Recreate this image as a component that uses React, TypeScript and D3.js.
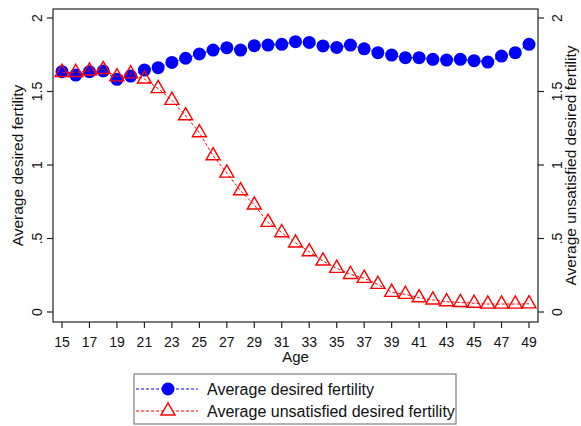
import { useEffect, useRef } from 'react'
import * as d3 from 'd3'

const AGES = d3.range(15, 50)
const DESIRED = [
  1.635, 1.612, 1.635, 1.64, 1.583, 1.605, 1.646, 1.662, 1.698, 1.726, 1.755, 1.782,
  1.798, 1.782, 1.812, 1.816, 1.821, 1.839, 1.834, 1.81, 1.80, 1.816, 1.79, 1.764,
  1.748, 1.73, 1.73, 1.719, 1.714, 1.719, 1.71, 1.70, 1.741, 1.764, 1.821,
]
const UNSATISFIED = [
  1.63, 1.63, 1.64, 1.65, 1.60, 1.62, 1.585, 1.52, 1.44, 1.335, 1.22, 1.063,
  0.945, 0.825, 0.728, 0.61, 0.54, 0.47, 0.41, 0.347, 0.297, 0.256, 0.229, 0.188,
  0.134, 0.12, 0.097, 0.082, 0.07, 0.065, 0.06, 0.054, 0.054, 0.054, 0.056,
]
const X_TICKS = d3.range(15, 50, 2)
const Y_TICKS = [0, 0.5, 1, 1.5, 2]
const Y_TICK_LABELS = ['0', '.5', '1', '1.5', '2']
const LEGEND = ['Average desired fertility', 'Average unsatisfied desired fertility']

const W = 581
const H = 426
const FRAME = { left: 53, right: 538, top: 9, bottom: 322 }
const BLUE = '#0000ff'
const RED = '#ff0000'
const FONT = 'Liberation Sans, Arial, sans-serif'

const triPath = (cx: number, cy: number, s = 14) => {
  const h = s * 0.87
  return `M${cx},${cy - (2 * h) / 3}L${cx + s / 2},${cy + h / 3}L${cx - s / 2},${cy + h / 3}Z`
}

export default function App() {
  const svgRef = useRef<SVGSVGElement>(null)

  useEffect(() => {
    const svg = d3.select(svgRef.current!)
    svg.selectAll('*').remove()

    const x = d3.scaleLinear([15, 49], [62, 529])
    const y = d3.scaleLinear([0, 2], [312, 18])

    svg.append('rect').attr('width', W).attr('height', H).attr('fill', '#fff')

    // ── Frame ────────────────────────────────────────────────
    svg.append('rect')
      .attr('x', FRAME.left).attr('y', FRAME.top)
      .attr('width', FRAME.right - FRAME.left).attr('height', FRAME.bottom - FRAME.top)
      .attr('fill', 'none').attr('stroke', '#222').attr('stroke-width', 1.2)

    // ── X axis ───────────────────────────────────────────────
    X_TICKS.forEach(t => {
      svg.append('line')
        .attr('x1', x(t)).attr('x2', x(t))
        .attr('y1', FRAME.bottom).attr('y2', FRAME.bottom + 6)
        .attr('stroke', '#222').attr('stroke-width', 1.2)
      svg.append('text')
        .attr('x', x(t)).attr('y', 347)
        .attr('text-anchor', 'middle').attr('font-size', 14).attr('font-family', FONT)
        .attr('fill', '#111')
        .text(t)
    })
    svg.append('text')
      .attr('x', (FRAME.left + FRAME.right) / 2).attr('y', 362)
      .attr('text-anchor', 'middle').attr('font-size', 15).attr('font-family', FONT)
      .attr('fill', '#111')
      .text('Age')

    // ── Y axes (left + right) ────────────────────────────────
    Y_TICKS.forEach((t, i) => {
      svg.append('line')
        .attr('x1', FRAME.left - 6).attr('x2', FRAME.left)
        .attr('y1', y(t)).attr('y2', y(t))
        .attr('stroke', '#222').attr('stroke-width', 1.2)
      svg.append('line')
        .attr('x1', FRAME.right).attr('x2', FRAME.right + 6)
        .attr('y1', y(t)).attr('y2', y(t))
        .attr('stroke', '#222').attr('stroke-width', 1.2)
      svg.append('text')
        .attr('transform', `translate(42,${y(t)}) rotate(-90)`)
        .attr('text-anchor', 'middle').attr('font-size', 14).attr('font-family', FONT)
        .attr('fill', '#111')
        .text(Y_TICK_LABELS[i])
      svg.append('text')
        .attr('transform', `translate(562,${y(t)}) rotate(-90)`)
        .attr('text-anchor', 'middle').attr('font-size', 14).attr('font-family', FONT)
        .attr('fill', '#111')
        .text(Y_TICK_LABELS[i])
    })
    svg.append('text')
      .attr('transform', `translate(23,${(FRAME.top + FRAME.bottom) / 2}) rotate(-90)`)
      .attr('text-anchor', 'middle').attr('font-size', 15.5).attr('font-family', FONT)
      .attr('fill', '#111')
      .text('Average desired fertility')
    svg.append('text')
      .attr('transform', `translate(576,${(FRAME.top + FRAME.bottom) / 2}) rotate(-90)`)
      .attr('text-anchor', 'middle').attr('font-size', 15.5).attr('font-family', FONT)
      .attr('fill', '#111')
      .text('Average unsatisfied desired fertility')

    // ── Series ───────────────────────────────────────────────
    const line = d3.line<number>().x((_, i) => x(AGES[i])).y(d => y(d))

    svg.append('path')
      .attr('d', line(DESIRED) ?? '')
      .attr('fill', 'none').attr('stroke', BLUE).attr('stroke-width', 1)
      .attr('stroke-dasharray', '3,2')
    svg.append('g').selectAll('circle').data(DESIRED).join('circle')
      .attr('cx', (_, i) => x(AGES[i])).attr('cy', d => y(d))
      .attr('r', 6.5).attr('fill', BLUE)

    svg.append('path')
      .attr('d', line(UNSATISFIED) ?? '')
      .attr('fill', 'none').attr('stroke', RED).attr('stroke-width', 1)
      .attr('stroke-dasharray', '3,2')
    svg.append('g').selectAll('path').data(UNSATISFIED).join('path')
      .attr('d', (d, i) => triPath(x(AGES[i]), y(d)))
      .attr('fill', 'none').attr('stroke', RED).attr('stroke-width', 1.4)

    // ── Legend ───────────────────────────────────────────────
    const lg = svg.append('g')
    lg.append('rect')
      .attr('x', 134).attr('y', 374).attr('width', 322).attr('height', 50)
      .attr('fill', '#fff').attr('stroke', '#666').attr('stroke-width', 1)
    const rows = [389, 411]
    LEGEND.forEach((label, i) => {
      const ly = rows[i]
      const color = i === 0 ? BLUE : RED
      lg.append('line')
        .attr('x1', 136).attr('x2', 198).attr('y1', ly).attr('y2', ly)
        .attr('stroke', color).attr('stroke-width', 1).attr('stroke-dasharray', '3,2')
      if (i === 0) {
        lg.append('circle').attr('cx', 168).attr('cy', ly).attr('r', 6.5).attr('fill', BLUE)
      } else {
        lg.append('path').attr('d', triPath(168, ly))
          .attr('fill', '#fff').attr('stroke', RED).attr('stroke-width', 1.4)
      }
      lg.append('text')
        .attr('x', 207).attr('y', ly + 6)
        .attr('font-size', 16).attr('font-family', FONT).attr('fill', '#111')
        .text(label)
    })
  }, [])

  return (
    <svg
      ref={svgRef}
      width={W}
      height={H}
      style={{ position: 'absolute', left: 0, top: 0 }}
    />
  )
}
